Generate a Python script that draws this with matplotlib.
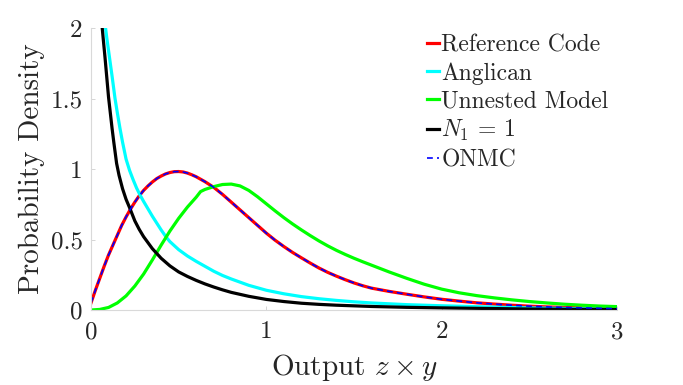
import matplotlib
matplotlib.use("Agg")
import matplotlib.pyplot as plt

plt.rcParams['font.family'] = ['cmr10', 'DejaVu Serif']
plt.rcParams['mathtext.fontset'] = 'cm'
plt.rcParams['axes.unicode_minus'] = False
plt.rcParams['axes.formatter.use_mathtext'] = True

# ---- data ----
ref_x = [0.0, 0.025, 0.05, 0.075, 0.1, 0.125, 0.15, 0.175, 0.2, 0.225, 0.25, 0.275, 0.3,
         0.325, 0.35, 0.375, 0.4, 0.425, 0.45, 0.475, 0.5, 0.525, 0.55, 0.575, 0.6, 0.65,
         0.7, 0.75, 0.8, 0.85, 0.9, 0.95, 1.0, 1.05, 1.1, 1.15, 1.2, 1.25, 1.3, 1.35, 1.4,
         1.45, 1.5, 1.55, 1.6, 1.7, 1.8, 1.9, 2.0, 2.1, 2.2, 2.3, 2.4, 2.5, 2.6, 2.7, 2.8,
         2.9, 3.0]
ref_y = [0.050, 0.14, 0.225, 0.31, 0.39, 0.46, 0.53, 0.60, 0.66, 0.715, 0.765, 0.81, 0.848,
         0.88, 0.908, 0.932, 0.950, 0.965, 0.975, 0.981, 0.982, 0.979, 0.971, 0.959, 0.945,
         0.910, 0.870, 0.820, 0.765, 0.710, 0.655, 0.600, 0.545, 0.495, 0.450, 0.408,
         0.370, 0.333, 0.298, 0.267, 0.240, 0.215, 0.192, 0.172, 0.155, 0.132, 0.112,
         0.093, 0.076, 0.063, 0.051, 0.042, 0.034, 0.027, 0.022, 0.018, 0.015, 0.012, 0.010]

onmc_x = list(ref_x)
onmc_y = list(ref_y)

ang_x = [0.075, 0.083, 0.09, 0.1, 0.11, 0.12, 0.137, 0.15, 0.165, 0.18, 0.2, 0.22, 0.24,
         0.26, 0.28, 0.3, 0.35, 0.4, 0.43, 0.45, 0.5, 0.55, 0.6, 0.65, 0.7, 0.75, 0.8,
         0.9, 1.0, 1.1, 1.2, 1.3, 1.4, 1.5, 1.6, 1.8, 2.0, 2.25, 2.5, 2.75, 3.0]
ang_y = [2.08, 2.0, 1.93, 1.84, 1.75, 1.66, 1.50, 1.40, 1.29, 1.19, 1.07, 0.99, 0.925,
         0.865, 0.815, 0.77, 0.665, 0.568, 0.515, 0.485, 0.428, 0.383, 0.345, 0.31, 0.275,
         0.245, 0.22, 0.175, 0.140, 0.115, 0.095, 0.080, 0.068, 0.058, 0.050, 0.038,
         0.030, 0.022, 0.015, 0.010, 0.007]

unn_x = [0.0, 0.05, 0.1, 0.15, 0.2, 0.25, 0.3, 0.35, 0.4, 0.45, 0.5, 0.55, 0.6, 0.625,
         0.65, 0.7, 0.75, 0.8, 0.85, 0.9, 0.95, 1.0, 1.05, 1.1, 1.15, 1.2, 1.25, 1.3, 1.35,
         1.4, 1.45, 1.5, 1.55, 1.6, 1.7, 1.8, 1.9, 2.0, 2.1, 2.2, 2.3, 2.4, 2.5, 2.6, 2.7,
         2.8, 2.9, 3.0]
unn_y = [0.000, 0.004, 0.018, 0.050, 0.100, 0.170, 0.255, 0.355, 0.460, 0.560, 0.650,
         0.730, 0.800, 0.840, 0.855, 0.875, 0.890, 0.893, 0.880, 0.848, 0.803, 0.753,
         0.703, 0.655, 0.610, 0.568, 0.528, 0.490, 0.455, 0.423, 0.394, 0.367, 0.342,
         0.318, 0.270, 0.225, 0.183, 0.148, 0.122, 0.102, 0.086, 0.072, 0.060, 0.050,
         0.041, 0.034, 0.028, 0.024]

n1_x = [0.058, 0.064, 0.07, 0.08, 0.09, 0.1, 0.11, 0.12, 0.13, 0.146, 0.16, 0.18, 0.2,
        0.222, 0.25, 0.275, 0.3, 0.35, 0.4, 0.45, 0.5, 0.55, 0.6, 0.65, 0.7, 0.75,
        0.8, 0.9, 1.0, 1.1, 1.2, 1.3, 1.4, 1.6, 1.8, 2.0, 2.25, 2.5, 2.75, 3.0]
n1_y = [2.08, 2.00, 1.92, 1.79, 1.65, 1.51, 1.40, 1.29, 1.19, 1.04, 0.955, 0.86, 0.785,
        0.72, 0.632, 0.572, 0.52, 0.435, 0.367, 0.313, 0.27, 0.238, 0.21, 0.185, 0.163,
        0.143, 0.125, 0.097, 0.075, 0.060, 0.048, 0.040, 0.034, 0.025, 0.019, 0.015,
        0.011, 0.007, 0.005, 0.003]

x_ticks = [0, 1, 2, 3]
x_ticklabels = ['0', '1', '2', '3']
y_ticks = [0, 0.5, 1, 1.5, 2]
y_ticklabels = ['0', '0.5', '1', '1.5', '2']

fig = plt.figure(figsize=(6.83, 3.85), dpi=100)
ax = fig.add_axes([91 / 683, 1 - 310 / 385, (617 - 91) / 683, (310 - 28) / 385])

ax.plot(ref_x, ref_y, color='#ff0000', lw=2.3, label='Reference Code')
ax.plot(ang_x, ang_y, color='#00ffff', lw=2.3, label='Anglican')
ax.plot(unn_x, unn_y, color='#00ff00', lw=2.3, label='Unnested Model')
ax.plot(n1_x, n1_y, color='#000000', lw=2.3, label=r'$N_1 \,=\, 1$')
ax.plot(onmc_x, onmc_y, color='#0000ff', lw=1.2, ls=(0, (3.5, 2.5)), label='ONMC')

ax.set_xlim(0, 3)
ax.set_ylim(0, 2)
ax.set_xticks(x_ticks)
ax.set_xticklabels(x_ticklabels)
ax.set_yticks(y_ticks)
ax.set_yticklabels(y_ticklabels)

for s in ['top', 'right']:
    ax.spines[s].set_visible(False)
for s in ['left', 'bottom']:
    ax.spines[s].set_color('#d9d9d9')
    ax.spines[s].set_linewidth(0.8)
ax.tick_params(direction='in', length=3, width=0.6, color='#cfcfcf',
               labelsize=18, labelcolor='#262626')
ax.tick_params(axis='x', pad=8)
ax.tick_params(axis='y', pad=6)

ax.set_xlabel(r'Output $z \times y$', fontsize=21, color='#262626', labelpad=6)
ax.set_ylabel('Probability Density', fontsize=21, color='#262626', labelpad=4)

leg = fig.legend(loc='upper left', bbox_to_anchor=(427 / 683, 1 - 34 / 385),
                 frameon=False, fontsize=17, handlelength=0.5, handletextpad=0.1,
                 labelspacing=0.25, borderpad=0, borderaxespad=0)
for t in leg.get_texts():
    t.set_color('#262626')

fig.savefig('out.png', dpi=100)
